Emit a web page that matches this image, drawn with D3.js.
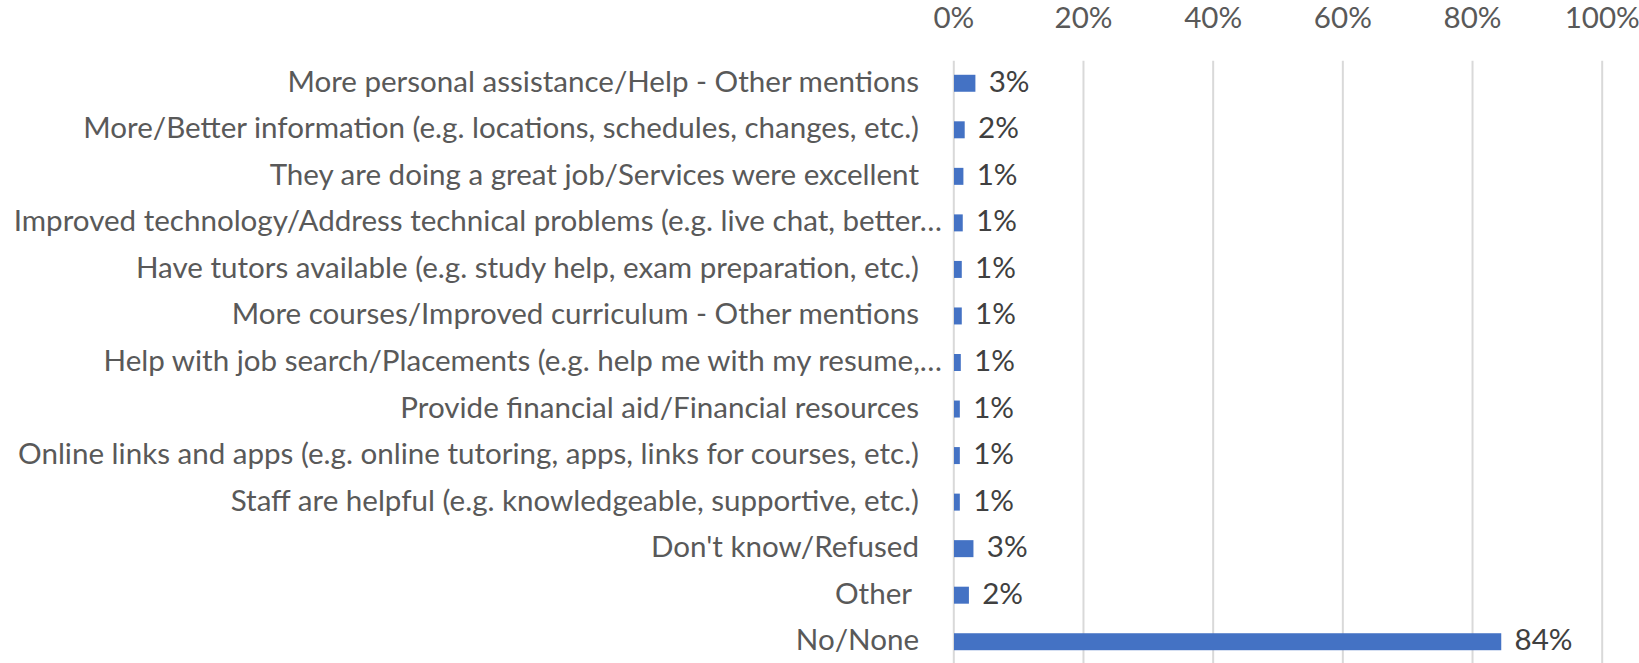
<!DOCTYPE html>
<html>
<head>
<meta charset="utf-8">
<script src="https://cdn.jsdelivr.net/npm/d3@7"></script>
<style>
  html, body { margin: 0; padding: 0; background: #ffffff; }
  svg text { font-family: Lato, "Open Sans", "Noto Sans", sans-serif; white-space: pre; }
</style>
</head>
<body>
<svg id="chart" width="1639" height="663"></svg>
<script>
// Survey responses (percent of respondents)
const categories = [
  "More personal assistance/Help - Other mentions",
  "More/Better information (e.g. locations, schedules, changes, etc.)",
  "They are doing a great job/Services were excellent",
  "Improved technology/Address technical problems (e.g. live chat, better\u2026",
  "Have tutors available (e.g. study help, exam preparation, etc.)",
  "More courses/Improved curriculum - Other mentions",
  "Help with job search/Placements (e.g. help me with my resume,\u2026",
  "Provide financial aid/Financial resources",
  "Online links and apps (e.g. online tutoring, apps, links for courses, etc.)",
  "Staff are helpful (e.g. knowledgeable, supportive, etc.)",
  "Don't know/Refused",
  "Other ",
  "No/None"
];
const values = [3.3, 1.65, 1.45, 1.35, 1.2, 1.2, 1.05, 0.9, 0.9, 0.9, 3.0, 2.3, 84.4];
const tickValues = [0, 20, 40, 60, 80, 100];

const svg = d3.select("#chart");
const W = 1639, H = 663;
const fontSize = 29;
const gridTop = 60.7;

const x = d3.scaleLinear().domain([0, 100]).range([953.3, 1601.7]);
const y = d3.scaleBand().domain(categories).range([60, 665])
  .paddingInner(0.635).paddingOuter(0.3175);

// Horizontal squeeze so the text runs as narrow as the chart's typeface
const probe = svg.append("text").attr("font-size", fontSize).text(categories[0]);
const sx = 632 / probe.node().getComputedTextLength();
probe.remove();

// Vertical gridlines
const grid = svg.append("g").attr("transform", `translate(0,${gridTop})`)
  .call(d3.axisBottom(x).tickValues(tickValues).tickSize(H - gridTop).tickFormat(""));
grid.select(".domain").remove();
grid.selectAll("line").attr("stroke", "#d9d9d9").attr("stroke-width", 2);

// Percent axis along the top
const pctAxis = svg.append("g").attr("transform", "translate(0,28)")
  .call(d3.axisTop(x).tickValues(tickValues).tickSize(0).tickFormat(d => d + "%"));
pctAxis.select(".domain").remove();
pctAxis.selectAll("line").remove();
pctAxis.attr("font-family", null).attr("font-size", null);
pctAxis.selectAll("text")
  .attr("y", 0).attr("dy", null)
  .attr("font-size", fontSize)
  .attr("fill", "#595959")
  .attr("text-anchor", "middle")
  .attr("transform", `scale(${sx},1)`);

// Bars
svg.append("g").selectAll("rect")
  .data(categories)
  .join("rect")
  .attr("x", x(0) + 0.7)
  .attr("y", d => y(d))
  .attr("width", (d, i) => x(values[i]) - x(0))
  .attr("height", y.bandwidth())
  .attr("fill", "#4472c4");

// Category labels (truncated ones fill the full label box)
svg.append("g").selectAll("text")
  .data(categories)
  .join("text")
  .attr("text-anchor", "end")
  .attr("font-size", fontSize)
  .attr("fill", "#595959")
  .attr("transform", d => {
    const xr = d.endsWith("\u2026") ? 942 : 919;
    return `translate(${xr},${y(d) + y.bandwidth() / 2 + 8.5}) scale(${sx},1)`;
  })
  .text(d => d);

// Value labels at the bar ends
const fmt = d3.format(".0%");
svg.append("g").selectAll("text")
  .data(categories)
  .join("text")
  .attr("font-size", fontSize)
  .attr("fill", "#404040")
  .attr("transform", (d, i) =>
    `translate(${x(values[i]) + 14},${y(d) + y.bandwidth() / 2 + 8.5}) scale(${sx},1)`)
  .text((d, i) => fmt(values[i] / 100));
</script>
</body>
</html>
